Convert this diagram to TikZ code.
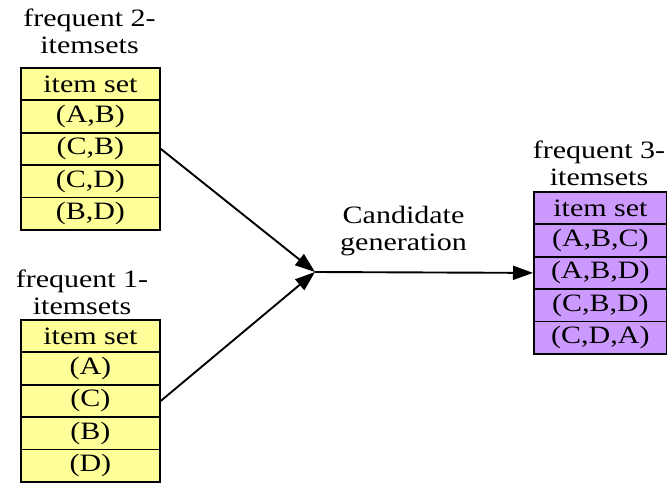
\documentclass[tikz,border=0pt]{standalone}
\usepackage{fontspec}
\setmainfont{Liberation Serif}[FakeStretch=1.2]
\usetikzlibrary{arrows.meta}
\definecolor{setyellow}{RGB}{255,255,153}
\definecolor{setpurple}{RGB}{204,153,255}
\begin{document}
\begin{tikzpicture}[x=1pt,y=-1pt,font=\fontsize{25}{27}\selectfont,
	cell/.style={draw,line width=1.8pt,inner sep=0pt,minimum height=32.4pt,anchor=north west},
	link/.style={line width=1.9pt,-{Triangle[length=20pt,width=14pt]}}]
	\useasboundingbox (0,0) rectangle (667,485);
	\def\h{32.4}
	\foreach \t [count=\i from 0] in {item set,{(A,B)},{(C,B)},{(C,D)},{(B,D)}} {
		\node[cell,fill=setyellow,minimum width=139pt] (two\i) at (20,67+\i*\h) {\t};
	}
	\foreach \t [count=\i from 0] in {item set,{(A)},{(C)},{(B)},{(D)}} {
		\node[cell,fill=setyellow,minimum width=139pt] (one\i) at (20,319+\i*\h) {\t};
	}
	\foreach \t [count=\i from 0] in {item set,{(A,B,C)},{(A,B,D)},{(C,B,D)},{(C,D,A)}} {
		\node[cell,fill=setpurple,minimum width=133pt] (three\i) at (533,191+\i*\h) {\t};
	}
	\node[align=center,inner sep=0pt,anchor=north] (twotitle) at (89.5,9) {frequent 2-\\itemsets};
	\node[align=center,inner sep=0pt,anchor=north] (onetitle) at (82,270) {frequent 1-\\itemsets};
	\node[align=center,inner sep=0pt,anchor=north] (threetitle) at (599,141) {frequent 3-\\itemsets};
	\node[align=center,inner sep=0pt,anchor=north] (genlabel) at (403.5,206) {Candidate\\generation};
	% arrows meet here
	\coordinate (gen) at (315,272);
	\draw[link] (two2.east) -- (gen);
	\draw[link] (one2.east) -- (gen);
	\draw[link] (gen) -- (three2.west);
\end{tikzpicture}
\end{document}
